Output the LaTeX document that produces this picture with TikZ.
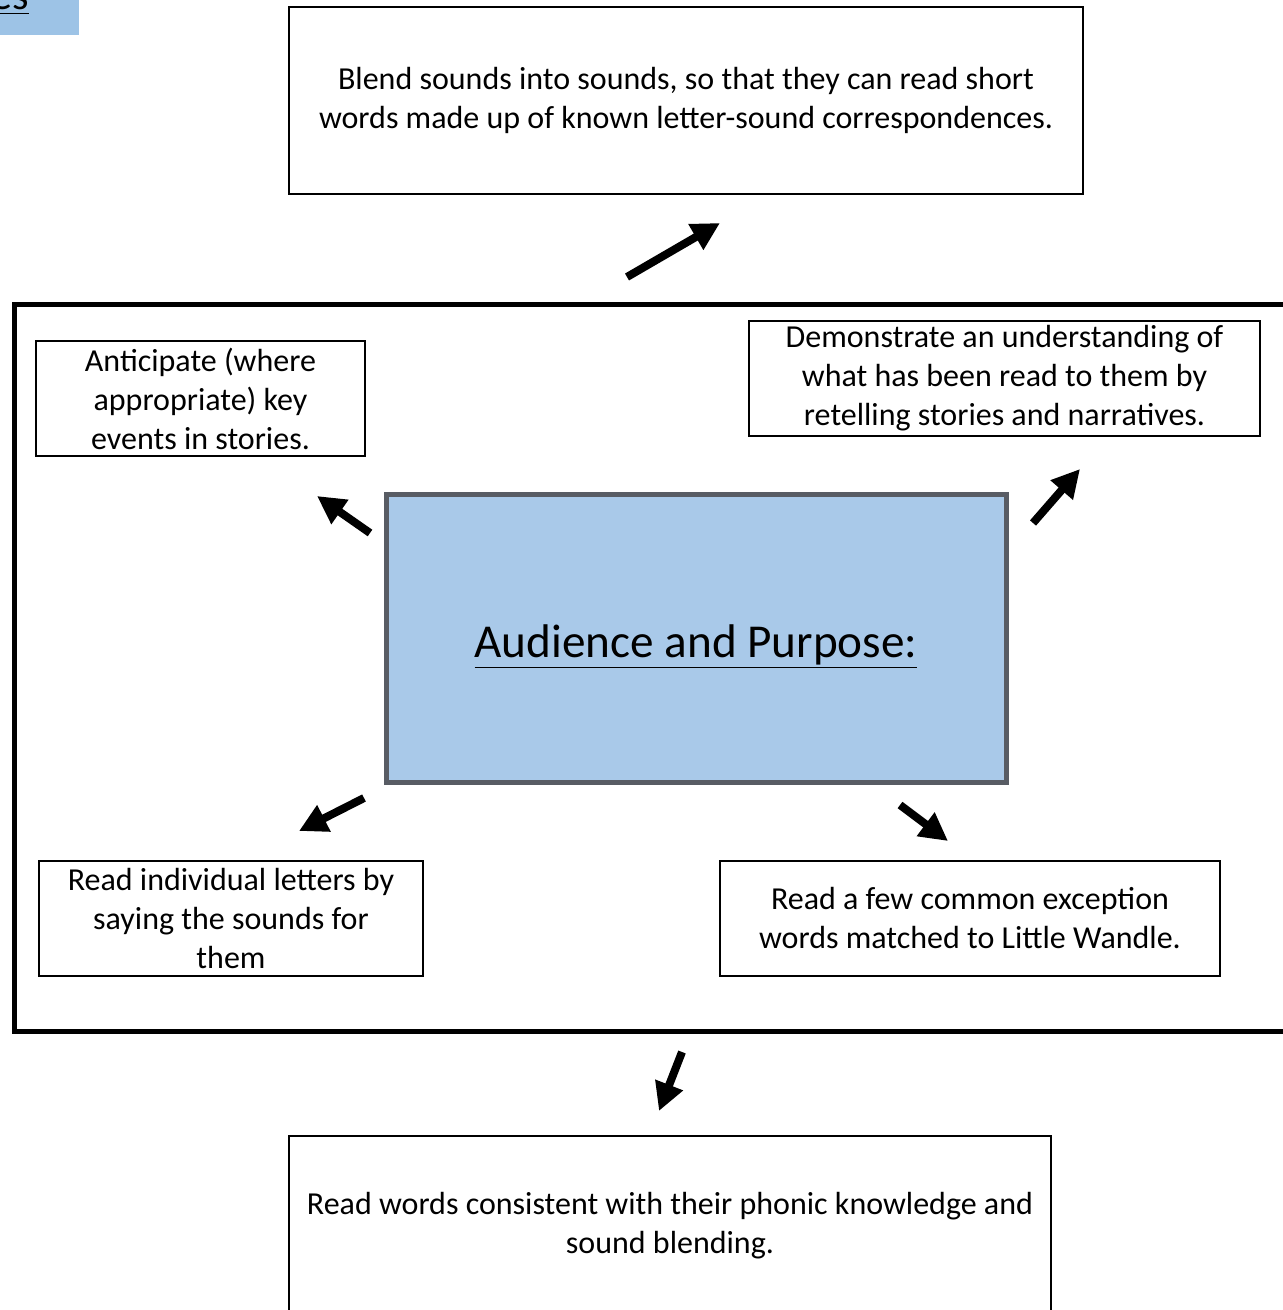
\documentclass[tikz,border=0pt]{standalone}
\usepackage{fontspec}
\setmainfont{Carlito}
\usetikzlibrary{arrows.meta}
\definecolor{tabblue}{RGB}{157,195,230}
\definecolor{midblue}{RGB}{169,201,233}
\definecolor{rimgray}{RGB}{88,92,100}
\tikzset{
  txtbox/.style={draw, line width=1pt, inner sep=0pt, align=center, font=\fontsize{16}{19.5}\selectfont},
  bigarrow/.style={line width=4pt, -{Triangle[length=14pt,width=14pt]}},
}

\begin{document}
\begin{tikzpicture}[x=0.5pt,y=-0.5pt]
			%%%%% START %%%%%
			\useasboundingbox (0,0) rectangle (1283,1310);
			
			\fill[tabblue] (0,0) rectangle (79,35);
			\node[anchor=base east, inner sep=0pt, font=\fontsize{21}{24}\selectfont] (tab) at (29,10) {\underline{es}};
			
			\node[txtbox, minimum width=397pt, minimum height=93.5pt] (blend) at (686,100.5)
				{Blend sounds into sounds, so that they can read short\\words made up of known letter-sound correspondences.};
			
			\draw[line width=2.5pt] (1290,305) -- (14,305) -- (14,1031) -- (1290,1031);
			
			\node[txtbox, minimum width=164.5pt, minimum height=57.5pt] (anticipate) at (200.5,398.5)
				{Anticipate (where\\appropriate) key\\events in stories.};
			\node[txtbox, minimum width=255.5pt, minimum height=57.5pt] (retell) at (1004.5,378.5)
				{Demonstrate an understanding of\\what has been read to them by\\retelling stories and narratives.};
			
			\node[draw=rimgray, fill=midblue, line width=2.5pt, minimum width=310pt, minimum height=144pt,
				text depth=0pt, font=\fontsize{23.6}{27}\selectfont] (purpose) at (696,638) {\raisebox{-3pt}{\underline{Audience and Purpose:}}};
			
			\node[txtbox, minimum width=192pt, minimum height=57.5pt] (letters) at (231,918.5)
				{Read individual letters by\\saying the sounds for\\them};
			\node[txtbox, minimum width=250pt, minimum height=57.5pt] (exception) at (970,918.5)
				{Read a few common exception\\words matched to Little Wandle.};
			
			\node[txtbox, minimum width=381pt, minimum height=90pt] (phonic) at (670,1226)
				{Read words consistent with their phonic knowledge and\\sound blending.};
			
			%% arrows
			\coordinate (upS) at (627,277);   \coordinate (upE) at (720,223);
			\coordinate (nwS) at (370,533);   \coordinate (nwE) at (317,496);
			\coordinate (neS) at (1033,523);  \coordinate (neE) at (1080,469);
			\coordinate (swS) at (364,798);   \coordinate (swE) at (299,831);
			\coordinate (seS) at (900,805);   \coordinate (seE) at (948,841);
			\coordinate (dnS) at (682,1052);  \coordinate (dnE) at (659,1111);
			
			\draw[bigarrow] (upS) -- (upE);
			\draw[bigarrow] (nwS) -- (nwE);
			\draw[bigarrow] (neS) -- (neE);
			\draw[bigarrow] (swS) -- (swE);
			\draw[bigarrow] (seS) -- (seE);
			\draw[bigarrow] (dnS) -- (dnE);
			
			%%%%% END %%%%%
\end{tikzpicture}
\end{document}
